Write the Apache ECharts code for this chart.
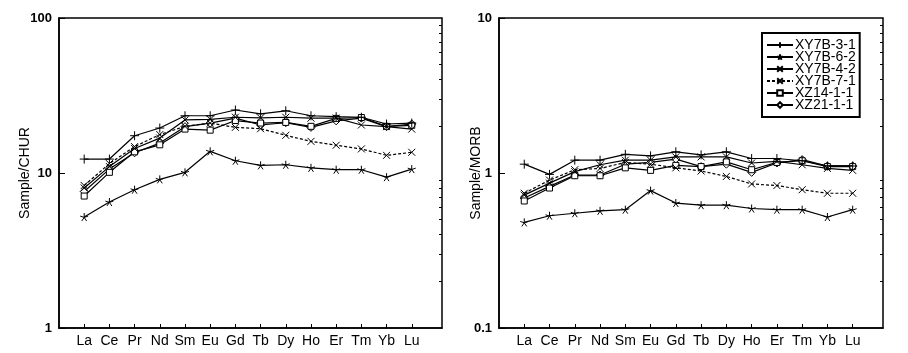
<!DOCTYPE html>
<html><head><meta charset="utf-8">
<script src="https://cdn.jsdelivr.net/npm/echarts@6/dist/echarts.min.js"></script>
<style>html,body{margin:0;padding:0;background:#fff}#c{width:908px;height:353px}</style>
</head><body><div id="c"></div>
<script>
const categories = ['La','Ce','Pr','Nd','Sm','Eu','Gd','Tb','Dy','Ho','Er','Tm','Yb','Lu'];
const seriesNames = ['XY7B-3-1','XY7B-6-2','XY7B-4-2','XY7B-7-1','XZ14-1-1','XZ21-1-1'];
const leftAxisName = 'Sample/CHUR';
const rightAxisName = 'Sample/MORB';
const leftTicks = [1, 10, 100];
const rightTicks = [0.1, 1, 10];

// Chondrite-normalised (left)
const chur_XY7B_3_1 = [12.3, 12.3, 17.4, 19.5, 23.4, 23.4, 25.5, 24.1, 25.2, 23.4, 23.1, 22.9, 20.7, 21.0];
const chur_XY7B_6_2 = [5.2, 6.5, 7.8, 9.1, 10.1, 13.8, 12.0, 11.2, 11.3, 10.8, 10.5, 10.5, 9.4, 10.6];
const chur_XY7B_4_2 = [8.0, 11.0, 14.4, 16.8, 22.0, 22.2, 22.9, 22.7, 22.9, 22.6, 22.6, 20.4, 19.9, 19.2];
const chur_XY7B_7_1 = [8.3, 11.5, 14.8, 17.7, 20.0, 21.0, 19.7, 19.3, 17.5, 16.0, 15.1, 14.3, 13.0, 13.6];
const chur_XZ14_1_1 = [7.1, 10.1, 13.7, 15.2, 19.2, 18.9, 21.8, 21.0, 21.2, 20.0, 22.5, 22.8, 20.0, 20.3];
const chur_XZ21_1_1 = [7.6, 10.6, 13.5, 15.6, 19.9, 21.0, 22.6, 20.4, 21.1, 19.7, 21.7, 22.6, 19.9, 20.7];

// MORB-normalised (right)
const morb_XY7B_3_1 = [1.14, 0.98, 1.21, 1.21, 1.32, 1.29, 1.37, 1.31, 1.37, 1.24, 1.24, 1.20, 1.11, 1.11];
const morb_XY7B_6_2 = [0.48, 0.53, 0.55, 0.57, 0.58, 0.77, 0.64, 0.62, 0.62, 0.59, 0.58, 0.58, 0.52, 0.58];
const morb_XY7B_4_2 = [0.72, 0.86, 1.02, 1.13, 1.21, 1.21, 1.27, 1.27, 1.27, 1.16, 1.19, 1.13, 1.07, 1.04];
const morb_XY7B_7_1 = [0.74, 0.90, 1.05, 1.07, 1.17, 1.14, 1.08, 1.03, 0.95, 0.85, 0.83, 0.78, 0.74, 0.74];
const morb_XZ14_1_1 = [0.66, 0.80, 0.96, 0.96, 1.08, 1.04, 1.12, 1.10, 1.18, 1.05, 1.17, 1.20, 1.10, 1.10];
const morb_XZ21_1_1 = [0.69, 0.82, 0.97, 0.97, 1.14, 1.17, 1.23, 1.10, 1.14, 1.01, 1.16, 1.22, 1.11, 1.11];

const leftData = [chur_XY7B_3_1, chur_XY7B_6_2, chur_XY7B_4_2, chur_XY7B_7_1, chur_XZ14_1_1, chur_XZ21_1_1];
const rightData = [morb_XY7B_3_1, morb_XY7B_6_2, morb_XY7B_4_2, morb_XY7B_7_1, morb_XZ14_1_1, morb_XZ21_1_1];

const FONT = 'Liberation Sans';
const PLUS = 'path://M5 0L5 10M0 5L10 5';
const CROSS = 'path://M0 0L10 10M10 0L0 10';
const STAR = 'path://M5 0L5 5M5 5L9.76 3.45M5 5L7.94 9.05M5 5L2.06 9.05M5 5L0.24 3.45';
const styles = [
  {symbol: PLUS, size: 9, fill: '#000', dash: 'solid'},
  {symbol: STAR, size: 8, fill: '#000', dash: 'solid'},
  {symbol: CROSS, size: 7, fill: '#000', dash: 'solid'},
  {symbol: CROSS, size: 7, fill: '#000', dash: [3, 2]},
  {symbol: 'rect', size: 6, fill: '#fff', dash: 'solid'},
  {symbol: 'diamond', size: 8, fill: '#fff', dash: 'solid'}
];

function minorVals(lo, hi) {
  const out = [];
  for (let d = lo; d < hi * 0.999; d *= 10) for (let k = 2; k <= 9; k++) out.push(+(d * k).toPrecision(3));
  return out;
}

const xIdx = categories.map((c, i) => i + 1);
function xAxis(gi) {
  return {
    type: 'value', gridIndex: gi, min: 0, max: 15.2,
    splitLine: {show: false},
    axisLine: {show: true, onZero: false, lineStyle: {color: '#000', width: 1.5}},
    axisTick: {show: true, inside: true, length: 4, customValues: xIdx, lineStyle: {color: '#000'}},
    axisLabel: {customValues: xIdx, formatter: v => categories[Math.round(v) - 1] || '',
      color: '#000', fontFamily: FONT, fontSize: 14, margin: 6}
  };
}
function yMajor(gi, lo, hi, ticks, name, gap) {
  return {
    type: 'log', logBase: 10, gridIndex: gi, min: lo, max: hi,
    name: name, nameLocation: 'middle', nameGap: gap, nameRotate: 90, nameMoveOverlap: false,
    nameTextStyle: {color: '#000', fontFamily: FONT, fontSize: 14},
    splitLine: {show: false},
    axisLine: {show: true, lineStyle: {color: '#000', width: 1.5}},
    axisTick: {show: true, inside: true, length: 6, customValues: ticks, lineStyle: {color: '#000'}},
    axisLabel: {customValues: ticks, formatter: v => String(v), color: '#000', fontFamily: FONT,
      fontSize: 13, fontWeight: 'bold', margin: 7}
  };
}
function yMinor(gi, lo, hi) {
  return {
    type: 'log', logBase: 10, gridIndex: gi, min: lo, max: hi,
    splitLine: {show: false},
    axisLine: {show: false},
    axisTick: {show: true, inside: true, length: 3, customValues: minorVals(lo, hi), lineStyle: {color: '#000'}},
    axisLabel: {show: false}
  };
}

const series = [];
[leftData, rightData].forEach((set, gi) => {
  set.forEach((vals, si) => {
    const st = styles[si];
    series.push({
      name: seriesNames[si], type: 'line', xAxisIndex: gi, yAxisIndex: gi * 2,
      data: vals.map((v, i) => [xIdx[i], v]),
      symbol: st.symbol, symbolSize: st.size, showAllSymbol: true,
      lineStyle: {color: '#000', width: 1.2, type: st.dash},
      itemStyle: {color: st.fill, borderColor: '#000', borderWidth: 1},
      emphasis: {disabled: true}, animation: false, z: 10 - si
    });
  });
});

const chart = echarts.init(document.getElementById('c'), null, {renderer: 'canvas'});
chart.setOption({
  backgroundColor: '#fff',
  animation: false,
  grid: [
    {left: 59, top: 18, width: 383, height: 310, show: true, borderColor: '#000', borderWidth: 1.5, backgroundColor: 'transparent'},
    {left: 499, top: 18, width: 384, height: 310, show: true, borderColor: '#000', borderWidth: 1.5, backgroundColor: 'transparent'}
  ],
  xAxis: [xAxis(0), xAxis(1)],
  yAxis: [
    yMajor(0, 1, 100, leftTicks, leftAxisName, 27), yMinor(0, 1, 100),
    yMajor(1, 0.1, 10, rightTicks, rightAxisName, 16), yMinor(1, 0.1, 10)
  ],
  legend: {
    data: seriesNames, orient: 'vertical', left: 762, top: 33,
    padding: [5, 4, 5, 4], itemGap: -2, itemWidth: 26, itemHeight: 7,
    borderColor: '#000', borderWidth: 2, backgroundColor: '#fff',
    textStyle: {color: '#000', fontFamily: FONT, fontSize: 14, lineHeight: 12, padding: [0, 0, 0, -3]},
    selectedMode: false
  },
  series: series
});
</script></body></html>
